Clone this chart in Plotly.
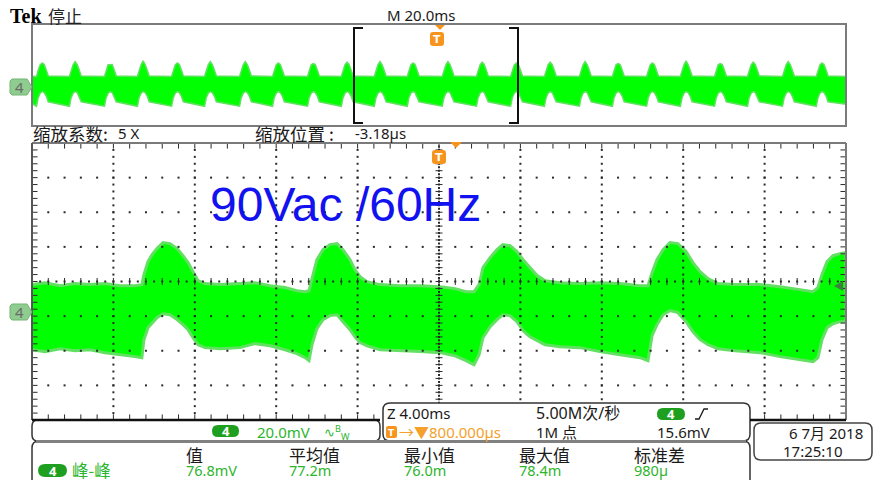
import plotly.graph_objects as go

W, H = 873, 480

# ---------------- zoomed record (4 ms/div, 20 mV/div) ----------------
# ripple envelope of channel 4: time in ms, upper / lower edge in mV
main_t = [-20.0, -19.36, -18.62, -17.89, -17.15, -16.41, -15.68, -14.94, -14.60, -14.50,
          -14.30, -14.10, -13.86, -13.56, -13.22, -12.87, -12.58, -12.33, -12.09, -11.84,
          -11.50, -10.76, -9.78, -9.04, -8.30, -7.57, -6.98, -6.58, -6.39, -6.24,
          -6.00, -5.70, -5.36, -5.01, -4.72, -4.37, -4.13, -3.88, -3.54, -2.90,
          -1.92, -0.93, 0.05, 0.79, 1.33, 1.72, 1.97, 2.16, 2.51, 2.85,
          3.14, 3.49, 3.83, 4.13, 4.47, 4.82, 5.21, 5.95, 6.93, 7.91,
          8.89, 9.88, 10.27, 10.47, 10.71, 11.01, 11.35, 11.74, 12.14, 12.48,
          12.83, 13.22, 13.71, 14.55, 15.77, 16.76, 17.74, 18.38, 18.62, 18.82,
          19.07, 19.36, 19.71, 20.0]
main_hi = [16.2, 17.3, 15.6, 16.8, 16.2, 16.8, 15.6, 15.6, 16.2, 22.0,
           29.5, 33.5, 37.0, 40.5, 39.9, 37.0, 32.9, 28.9, 23.7, 18.5,
           16.8, 16.2, 16.8, 17.3, 15.6, 14.5, 12.7, 12.1, 12.7, 20.2,
           30.6, 36.4, 39.3, 39.9, 36.4, 30.6, 24.9, 20.8, 17.9, 16.2,
           15.6, 15.6, 15.0, 13.9, 12.1, 12.1, 16.2, 26.0, 31.8, 36.4,
           39.3, 38.7, 35.3, 30.6, 26.0, 21.4, 18.5, 17.3, 16.8, 17.3,
           16.8, 15.6, 15.6, 23.1, 30.6, 36.4, 40.5, 39.9, 35.3, 28.9,
           23.7, 19.7, 16.8, 16.2, 16.2, 15.0, 13.3, 12.1, 14.5, 22.0,
           29.5, 32.9, 34.1, 34.7]
main_lo = [-21.4, -22.5, -20.8, -22.0, -21.4, -23.1, -24.3, -25.4, -26.0, -15.6,
           -8.7, -5.8, -2.9, -0.6, -1.2, -4.0, -6.9, -9.8, -14.5, -18.5,
           -20.2, -20.8, -20.2, -17.9, -19.1, -21.4, -23.7, -26.0, -27.7, -18.5,
           -9.2, -4.0, -1.7, -1.2, -5.2, -9.8, -13.9, -17.3, -19.1, -21.4,
           -22.0, -22.5, -23.1, -24.9, -27.7, -30.1, -24.3, -14.5, -8.1, -4.0,
           -1.2, -1.7, -5.2, -10.4, -13.9, -16.2, -18.5, -19.7, -20.2, -22.5,
           -24.3, -26.0, -27.7, -13.3, -6.9, -1.2, 1.2, 0.0, -5.2, -11.0,
           -15.6, -18.5, -20.8, -22.0, -23.1, -25.4, -27.2, -28.3, -26.0, -15.6,
           -8.7, -6.4, -5.2, -5.2]

# ---------------- full record overview (20 ms/div) ----------------
ovw_peak_t = [-96.8, -88.7, -80.1, -72.0, -63.6, -55.5, -46.9, -38.8, -30.2, -21.9,
              -13.8, -5.7, 2.9, 11.3, 19.7, 28.0, 36.6, 44.7, 53.1, 61.4,
              69.8, 77.9, 86.5, 94.8]
ovw_peak_v = [39, 41, 36, 42, 39, 41, 41, 39, 38, 40,
              41, 39, 41, 40, 39, 40, 41, 38, 39, 42,
              38, 40, 41, 39]
# shape of one 120 Hz ripple hump around its peak (ms offset, upper mV, lower mV)
hump_dt = [-1.4, -1.0, -0.5, 0.0, 0.5, 1.0, 1.5]
hump_hi = [17.5, 27.0, 36.0, None, 36.5, 28.0, 18.5]
hump_lo = [-29.0, -16.0, -8.5, -6.0, -7.5, -13.0, -22.0]

# measurement readout
meas_names = ["值", "平均值", "最小值", "最大值", "标准差"]
meas_values = ["76.8mV", "77.2m", "76.0m", "78.4m", "980µ"]
meas_x = [185, 288, 403, 518, 633]

MAIN_X = [-20, 20]
MAIN_Y = [-62, 98]
OVW_X = [-99.3, 100.7]
OVW_Y = [-60, 100]

GREEN = "#00ff00"
FRINGE = "#62e062"
TXT_GREEN = "#2db52d"
PILL = "#1f9f1f"
ORANGE = "#f7941d"
DARK = "#1a1a1a"
SANS = "Noto Sans, Noto Sans CJK SC, sans-serif"
CJK = "Noto Sans CJK SC, Noto Sans, sans-serif"


def px(x):
    return x / W


def py(y):
    return 1 - y / H


def pt(x, y):
    return f"{px(x):.5f},{py(y):.5f}"


def line(x0, y0, x1, y1, color, width):
    return dict(type="line", xref="paper", yref="paper", x0=px(x0), y0=py(y0),
                x1=px(x1), y1=py(y1), line=dict(color=color, width=width))


def poly(points, fill, color=None, width=0):
    d = "M " + " L ".join(pt(x, y) for x, y in points) + " Z"
    return dict(type="path", xref="paper", yref="paper", path=d, fillcolor=fill,
                line=dict(color=color or fill, width=width))


def rounded(x0, y0, x1, y1, r, fill, color, width):
    d = (f"M {pt(x0 + r, y0)} L {pt(x1 - r, y0)} Q {pt(x1, y0)} {pt(x1, y0 + r)} "
         f"L {pt(x1, y1 - r)} Q {pt(x1, y1)} {pt(x1 - r, y1)} "
         f"L {pt(x0 + r, y1)} Q {pt(x0, y1)} {pt(x0, y1 - r)} "
         f"L {pt(x0, y0 + r)} Q {pt(x0, y0)} {pt(x0 + r, y0)} Z")
    return dict(type="path", xref="paper", yref="paper", path=d, fillcolor=fill,
                line=dict(color=color, width=width))


def open_box(x0, y0, x1, r, color, width):
    d = (f"M {pt(x0, H + 10)} L {pt(x0, y0 + r)} Q {pt(x0, y0)} {pt(x0 + r, y0)} "
         f"L {pt(x1 - r, y0)} Q {pt(x1, y0)} {pt(x1, y0 + r)} L {pt(x1, H + 10)}")
    return dict(type="path", xref="paper", yref="paper", path=d,
                line=dict(color=color, width=width))


def text(x, y, s, size=15, color=DARK, anchor="left", family=SANS):
    return dict(xref="paper", yref="paper", x=px(x), y=py(y), text=s, showarrow=False,
                xanchor=anchor, yanchor="middle", borderpad=0,
                font=dict(family=family, size=size, color=color))


fig = go.Figure()

# ---- zoomed waveform ----
fig.add_trace(go.Scatter(
    x=main_t + main_t[::-1], y=main_hi + main_lo[::-1],
    fill="toself", fillcolor=GREEN, mode="lines",
    line=dict(color=FRINGE, width=3), hoverinfo="skip", xaxis="x", yaxis="y"))

# ---- overview waveform ----
ov_t, ov_hi, ov_lo = [OVW_X[0]], [18.0], [-25.0]
for tc, pk in zip(ovw_peak_t, ovw_peak_v):
    for dt, h, l in zip(hump_dt, hump_hi, hump_lo):
        ov_t.append(tc + dt)
        ov_hi.append(pk if h is None else h)
        ov_lo.append(l)
ov_t.append(OVW_X[1]); ov_hi.append(17.5); ov_lo.append(-26.0)
fig.add_trace(go.Scatter(
    x=ov_t + ov_t[::-1], y=ov_hi + ov_lo[::-1],
    fill="toself", fillcolor=GREEN, mode="lines",
    line=dict(color=FRINGE, width=1.5), hoverinfo="skip", xaxis="x2", yaxis="y2"))

# ---- graticule of the zoomed window, drawn over the trace ----
dt_div, dv_div = 4.0, 20.0
t0, v0 = MAIN_X[0], MAIN_Y[0]
vc = v0 + 4 * dv_div
dot_x, dot_y = [], []
for k in (1, 2, 3, 5, 6, 7):
    for i in range(1, 50):
        dot_x.append(t0 + 0.8 * i); dot_y.append(v0 + dv_div * k)
for j in (1, 2, 3, 4, 6, 7, 8, 9):
    for i in range(1, 40):
        dot_x.append(t0 + dt_div * j); dot_y.append(v0 + 4 * i)
for i in range(1, 100):
    dot_x.append(t0 + 0.4 * i); dot_y.append(vc)
for i in range(1, 80):
    dot_x.append(0.0); dot_y.append(v0 + 2 * i)
fig.add_trace(go.Scatter(x=dot_x, y=dot_y, mode="markers",
                         marker=dict(symbol="square", size=2, color="#2a2a2a", line=dict(width=0)),
                         hoverinfo="skip", xaxis="x", yaxis="y"))

ew_x, ew_y, ns_x, ns_y = [], [], [], []
for i in range(1, 40):
    ew_x += [0.0, t0 + 0.1, MAIN_X[1] - 0.1]
    ew_y += [v0 + 4 * i] * 3
for i in range(1, 50):
    ns_x += [t0 + 0.8 * i] * 3
    ns_y += [vc, MAIN_Y[1] - 1.2, MAIN_Y[0] + 1.2]
fig.add_trace(go.Scatter(x=ew_x, y=ew_y, mode="markers",
                         marker=dict(symbol="line-ew", size=5, line=dict(color="#2a2a2a", width=1)),
                         hoverinfo="skip", xaxis="x", yaxis="y"))
fig.add_trace(go.Scatter(x=ns_x, y=ns_y, mode="markers",
                         marker=dict(symbol="line-ns", size=5, line=dict(color="#2a2a2a", width=1)),
                         hoverinfo="skip", xaxis="x", yaxis="y"))

shapes, ann = [], []

# ---- panel frames ----
shapes.append(dict(type="rect", xref="paper", yref="paper", x0=px(32), y0=py(126),
                   x1=px(846), y1=py(24), line=dict(color="#7b7b7b", width=2)))
shapes += [line(32, 143, 846, 143, "#7a7a7a", 2), line(32, 143, 32, 420, "#555555", 2),
           line(846, 143, 846, 420, "#7a7a7a", 2)]

# zoom window bracket in the overview
shapes += [line(354, 28, 354, 123, "#111", 2), line(353, 28, 363, 28, "#111", 2),
           line(353, 123, 363, 123, "#111", 2),
           line(518, 28, 518, 123, "#111", 2), line(509, 28, 519, 28, "#111", 2),
           line(509, 123, 519, 123, "#111", 2)]

# trigger markers
shapes.append(poly([(435, 25), (445, 25), (440, 30)], ORANGE))
shapes.append(rounded(430, 32, 444, 46, 3, ORANGE, ORANGE, 0))
ann.append(text(437, 39.5, "<b>T</b>", 11, "white", "center", "DejaVu Sans"))
shapes.append(poly([(450, 142), (462, 142), (456, 148)], ORANGE))
shapes.append(rounded(432, 150, 446, 164, 3, ORANGE, ORANGE, 0))
ann.append(text(439, 157.5, "<b>T</b>", 11, "white", "center", "DejaVu Sans"))

# channel ground markers
for gy in (87, 312):
    shapes.append(poly([(12, gy - 8), (27, gy - 8), (32, gy), (27, gy + 8), (12, gy + 8), (10, gy + 6),
                        (10, gy - 6)], "#8fcc8f", "#74b574", 1))
    ann.append(text(19, gy, "4", 15, "#6a6a6a", "center", SANS))

# trigger level marker on the right edge
shapes.append(poly([(834, 286), (843, 281), (843, 291)], "#3f7f3f"))

# ---- header texts ----
ann.append(text(9, 16, "<b>Tek</b>", 20, "#000", "left", "Liberation Serif"))
ann.append(text(47, 16, "停止", 17, "#222", "left", CJK))
ann.append(text(386, 15, "M 20.0ms", 15, DARK))
ann.append(text(32, 133, "缩放系数:", 17.5, DARK, "left", CJK))
ann.append(text(117, 133, "5 X", 15, DARK))
ann.append(text(254, 133, "缩放位置 :", 17.5, DARK, "left", CJK))
ann.append(text(354, 133, "-3.18µs", 15, DARK))
ann.append(text(209, 205, "90Vac /60Hz", 48, "#1212f0", "left", "Liberation Sans, Arial"))

# ---- status bars ----
shapes.append(rounded(32, 420, 380, 441, 6, "white", "#333", 1.5))
shapes.append(rounded(383, 403, 750, 441, 7, "white", "#333", 1.5))
shapes.append(rounded(754, 423, 872, 460, 7, "white", "#444", 1.5))
shapes.append(open_box(32, 441, 750, 7, "#333", 1.5))
shapes.append(line(36, 441.5, 746, 441.5, "#808080", 3))
shapes.append(line(32, 420, 380, 420, "#111", 2.5))
shapes.append(line(750, 420, 846, 420, "#111", 2.5))

# channel scale
shapes.append(rounded(212, 425, 239, 437, 6, PILL, PILL, 0))
ann.append(text(225.5, 431, "<b>4</b>", 13, "white", "center"))
ann.append(text(256, 432, "20.0mV", 15, TXT_GREEN))
ann.append(text(323, 432, "∿<sup>B</sup><sub>W</sub>", 13, TXT_GREEN))

# timebase / acquisition / trigger
ann.append(text(386, 413, "Z 4.00ms", 15, DARK))
shapes.append(rounded(386, 426, 397, 438, 2, ORANGE, ORANGE, 0))
ann.append(text(391.5, 432.5, "<b>T</b>", 9, "white", "center", "DejaVu Sans"))
ann.append(text(398, 432, "→▼800.000µs", 15, "#f5a02a"))
ann.append(text(535, 413, "5.00M次/秒", 16, DARK))
ann.append(text(535, 432, "1M 点", 15, DARK))
shapes.append(rounded(657, 408, 685, 420, 6, PILL, PILL, 0))
ann.append(text(671, 414, "<b>4</b>", 13, "white", "center"))
shapes.append(dict(type="path", xref="paper", yref="paper",
                   path=f"M {pt(695, 419)} L {pt(699, 419)} L {pt(704, 409)} L {pt(708, 409)}",
                   line=dict(color=DARK, width=1.3)))
ann.append(text(656, 432, "15.6mV", 15, DARK))

# date / time
ann.append(text(788, 433, "6 7月 2018", 15, DARK))
ann.append(text(782, 451, "17:25:10", 15, DARK))

# measurement table
for name, val, mx in zip(meas_names, meas_values, meas_x):
    ann.append(text(mx, 454, name, 17, DARK, "left", CJK))
    ann.append(text(mx, 470, val, 14.5, TXT_GREEN))
shapes.append(rounded(38, 464, 67, 477, 7, PILL, PILL, 0))
ann.append(text(52.5, 470.5, "<b>4</b>", 13, "white", "center"))
ann.append(text(71, 469.5, "峰-峰", 16.5, TXT_GREEN, "left", CJK))

hidden = dict(visible=False, showgrid=False, zeroline=False, fixedrange=True)
fig.update_layout(
    width=W, height=H, margin=dict(l=0, r=0, t=0, b=0),
    paper_bgcolor="white", plot_bgcolor="white", showlegend=False,
    xaxis=dict(domain=[px(32), px(846)], range=MAIN_X, anchor="y", **hidden),
    yaxis=dict(domain=[py(420), py(143)], range=MAIN_Y, anchor="x", **hidden),
    xaxis2=dict(domain=[px(32), px(846)], range=OVW_X, anchor="y2", **hidden),
    yaxis2=dict(domain=[py(126), py(24)], range=OVW_Y, anchor="x2", **hidden),
    shapes=shapes, annotations=ann,
)

fig.write_html("out.html", config={"displayModeBar": False})
